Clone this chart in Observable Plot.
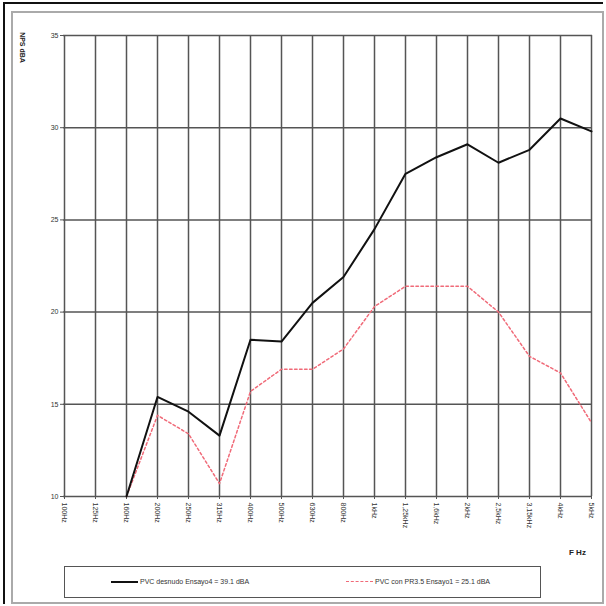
<!DOCTYPE html>
<html>
<head>
<meta charset="utf-8">
<script src="https://cdn.jsdelivr.net/npm/d3@7"></script>
<script src="https://cdn.jsdelivr.net/npm/@observablehq/plot@0.6"></script>
<style>
  html, body { margin: 0; padding: 0; background: #fff; }
  #wrap { position: relative; width: 606px; height: 606px; overflow: hidden; font-family: "Liberation Sans Narrow", "Liberation Sans", Arial, sans-serif; }
  #outer { position: absolute; left: 3px; top: 2px; width: 600px; height: 602px; border-left: 2px solid #111; border-top: 2px solid #111; box-sizing: border-box; z-index: 2; }
  #inner { position: absolute; left: 11px; top: 11px; width: 593px; height: 593px; border: 2px solid #aaa; box-sizing: border-box; z-index: 2; }
  #chart { position: absolute; left: 0; top: 0; z-index: 1; }
  #ylab { position: absolute; left: 2px; top: 44px; transform: rotate(90deg); transform-origin: center; font-size: 7px; font-weight: bold; color: #222; white-space: nowrap; width: 40px; text-align: center; z-index: 3; }
  #xlab { position: absolute; left: 569px; top: 548px; font-size: 8px; font-weight: bold; color: #222; z-index: 3; }
  #legend { position: absolute; left: 64px; top: 566px; width: 477px; height: 32px; border: 1.5px solid #555; box-sizing: border-box; font-size: 7px; color: #333; z-index: 3; }
  .item { position: absolute; top: 11px; display: flex; align-items: center; white-space: nowrap; }
  .sw { width: 27px; height: 0; margin-right: 2px; }
</style>
</head>
<body>
<div id="wrap">
  <div id="chart"></div>
  <div id="outer"></div>
  <div id="inner"></div>
  <div id="ylab">NPS dBA</div>
  <div id="xlab">F Hz</div>
  <div id="legend"></div>
</div>
<script>
const categories = ["100Hz","125Hz","160Hz","200Hz","250Hz","315Hz","400Hz","500Hz","630Hz","800Hz","1kHz","1,25kHz","1,6kHz","2kHz","2,5kHz","3,15kHz","4kHz","5kHz"];
const seriesNames = ["PVC desnudo Ensayo4 = 39.1 dBA", "PVC con PR3.5 Ensayo1 = 25.1 dBA"];
const desnudo = [null, null, 10.0, 15.4, 14.6, 13.3, 18.5, 18.4, 20.5, 21.9, 24.5, 27.5, 28.4, 29.1, 28.1, 28.8, 30.5, 29.8];
const conPR = [null, null, 10.0, 14.4, 13.4, 10.7, 15.7, 16.9, 16.9, 18.0, 20.3, 21.4, 21.4, 21.4, 20.0, 17.6, 16.7, 14.0];
const yTicks = [10, 15, 20, 25, 30, 35];

const rows = categories.map((c, i) => ({f: c, v: desnudo[i], s: seriesNames[0]}));
const rows2 = categories.map((c, i) => ({f: c, v: conPR[i], s: seriesNames[1]}));

const plot = Plot.plot({
  width: 606,
  height: 560,
  marginLeft: 63,
  marginRight: 14,
  marginTop: 35,
  marginBottom: 64,
  style: {fontFamily: "'Liberation Sans Narrow', 'Liberation Sans', Arial, sans-serif", fontSize: "7px", color: "#333", background: "transparent"},
  x: {type: "point", domain: categories, padding: 0, label: null},
  y: {domain: [10, 35], ticks: yTicks, label: null},
  marks: [
    Plot.ruleX(categories, {stroke: "#555", strokeWidth: 1.5}),
    Plot.ruleY(yTicks, {stroke: "#555", strokeWidth: 1.5}),
    Plot.axisY({ticks: yTicks, tickSize: 3, tickPadding: 2, fontSize: 7, stroke: "#555"}),
    Plot.axisX({tickSize: 3, tickRotate: 90, tickPadding: 3, fontSize: 7, stroke: "#555"}),
    Plot.line(rows2, {x: "f", y: "v", stroke: "#f06a78", strokeWidth: 1.5, strokeDasharray: "2.5,2.5"}),
    Plot.line(rows, {x: "f", y: "v", stroke: "#111", strokeWidth: 2})
  ]
});
document.getElementById("chart").appendChild(plot);

const legend = document.getElementById("legend");
const items = [
  {name: seriesNames[0], left: 46, border: "2px solid #111"},
  {name: seriesNames[1], left: 281, border: "1.5px dashed #f06a78"}
];
items.forEach(it => {
  const d = document.createElement("div");
  d.className = "item";
  d.style.left = it.left + "px";
  const sw = document.createElement("span");
  sw.className = "sw";
  sw.style.borderTop = it.border;
  const t = document.createElement("span");
  t.textContent = it.name;
  d.appendChild(sw);
  d.appendChild(t);
  legend.appendChild(d);
});
</script>
</body>
</html>
